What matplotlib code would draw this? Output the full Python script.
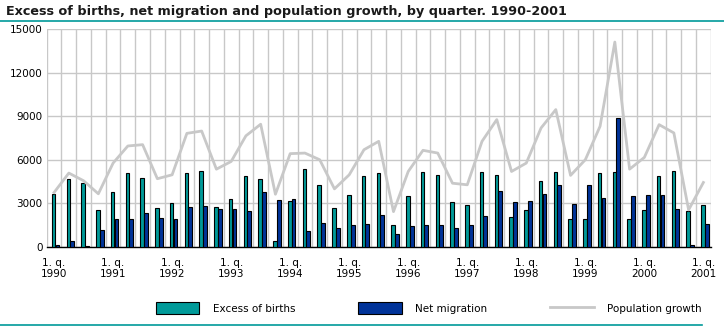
import numpy as np
import matplotlib
matplotlib.use("Agg")
import matplotlib.pyplot as plt
from matplotlib.patches import Patch
from matplotlib.lines import Line2D

# quarters 1990 Q1 .. 2001 Q1
years = list(range(1990, 2002))
n_quarters = 45

excess_births = [3620, 4660, 4390, 2520, 3760, 5080, 4730, 2650, 3010, 5080,
                 5240, 2720, 3280, 4880, 4660, 370, 3160, 5350, 4250, 2650,
                 3550, 4870, 5080, 1480, 3480, 5170, 4940, 3070, 2860, 5150,
                 4915, 2080, 2520, 4500, 5120, 1890, 1940, 5080, 5150, 1890,
                 2520, 4870, 5220, 2450, 2860]
net_migration = [90, 370, 30, 1130, 1890, 1890, 2300, 1960, 1900, 2720,
                 2800, 2580, 2580, 2450, 3760, 3230, 3300, 1060, 1620, 1290,
                 1480, 1550, 2170, 850, 1410, 1480, 1480, 1270, 1480, 2090,
                 3830, 3050, 3120, 3620, 4290, 2980, 4250, 3350, 8880, 3480,
                 3550, 3550, 2580, 90, 1550]
population_growth = [3740, 5080, 4550, 3650, 5770, 6950, 7040, 4690, 4960, 7820,
                     7980, 5350, 5880, 7650, 8450, 3620, 6420, 6460, 6000, 3990,
                     4960, 6690, 7270, 2420, 5190, 6650, 6460, 4380, 4270, 7270,
                     8770, 5190, 5770, 8190, 9460, 4920, 6000, 8310, 14120, 5350,
                     6160, 8420, 7850, 2540, 4430]

TEAL = "#009a99"
BLUE = "#003399"
GREY = "#c8c8c8"

plt.rcParams["font.family"] = "DejaVu Sans"

fig = plt.figure(figsize=(7.24, 3.27), dpi=100)
ax = fig.add_axes([0.0645, 0.2456, 0.9172, 0.6648])

x = np.arange(n_quarters)
ax.bar(x - 0.03, excess_births, width=0.24, color=TEAL, edgecolor="black",
       linewidth=0.8, zorder=3)
ax.bar(x + 0.23, net_migration, width=0.26, color=BLUE, edgecolor="black",
       linewidth=0.8, zorder=3)
ax.plot(x, population_growth, color=GREY, linewidth=2, zorder=4)

ax.set_xlim(-0.5, n_quarters - 0.5)
ax.set_ylim(0, 15000)
ax.set_yticks(np.arange(0, 15001, 3000))
ax.set_xticks(np.arange(0, n_quarters, 4))
ax.set_xticklabels([f"1. q.\n{y}" for y in years], fontsize=6.8, linespacing=1.15)
ax.set_xticks(np.arange(-0.5, n_quarters, 1), minor=True)
ax.tick_params(axis="both", which="both", length=0, labelsize=7.5, pad=3)
ax.tick_params(axis="x", pad=8)
ax.grid(True, which="minor", axis="x", color=GREY, linewidth=1, zorder=0)
ax.grid(True, which="major", axis="y", color=GREY, linewidth=1, zorder=0)
ax.set_axisbelow(True)
for side in ["top", "right", "left"]:
    ax.spines[side].set_visible(False)
ax.spines["bottom"].set_color("black")
ax.spines["bottom"].set_linewidth(1)

handles = [Patch(facecolor=TEAL, edgecolor="black", linewidth=0.8, label="Excess of births"),
           Patch(facecolor=BLUE, edgecolor="black", linewidth=0.8, label="Net migration"),
           Line2D([0], [0], color=GREY, linewidth=2, label="Population growth")]
fig.legend(handles=handles, loc="center", bbox_to_anchor=(0.592, 0.058), ncol=3,
           frameon=False, fontsize=7.5, handlelength=4.2, handleheight=1.35,
           handletextpad=1.3, columnspacing=6)

fig.text(0.008, 0.965, "Excess of births, net migration and population growth, by quarter. 1990-2001",
         fontsize=9.2, fontweight="bold", color="#1a1a1a", va="center")
fig.add_artist(Line2D([0, 1], [0.935, 0.935], color=TEAL, linewidth=1.2))
fig.add_artist(Line2D([0, 0.97], [0.006, 0.006], color=TEAL, linewidth=1.2))

fig.savefig("out.png", dpi=100)
